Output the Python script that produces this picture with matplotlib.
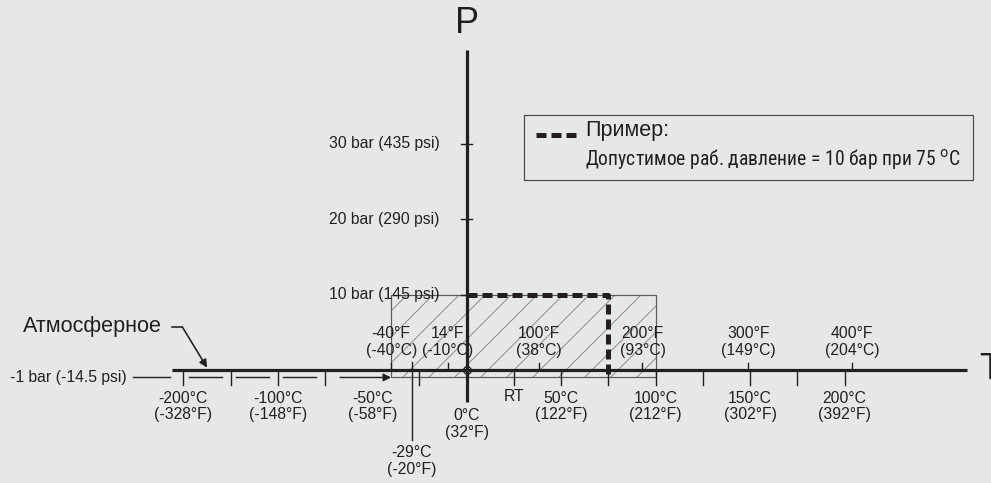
import matplotlib.pyplot as plt
from matplotlib import font_manager
from matplotlib.patches import Rectangle

DPI = 78  # hatch spacing in matplotlib follows dpi, 78 gives ~13 px


def px(v):
    # pixel size -> points
    return v * 72.0 / DPI


# pressure axis (bar) with psi labels
p_ticks = [10, 20, 30]
p_labels = ["10 bar (145 psi)", "20 bar (290 psi)", "30 bar (435 psi)"]
p_min = -1
p_min_label = "-1 bar (-14.5 psi)"

# temperature ticks under the axis; left part of scale is drawn compressed,
# so -200 °C sits at position -150 and -150 °C at -125
c_tick_pos = [-150, -125, -100, -75, -25, 25, 50, 75, 100, 125, 150, 175, 200]
c_label_pos = [-150, -100, -50, 25, 50, 100, 150, 200]
c_labels = ["-200°C\n(-328°F)", "-100°C\n(-148°F)", "-50°C\n(-58°F)", "RT",
            "50°C\n(122°F)", "100°C\n(212°F)", "150°C\n(302°F)", "200°C\n(392°F)"]
zero_label = "0°C\n(32°F)"
low_limit = -29
low_limit_label = "-29°C\n(-20°F)"

# fahrenheit ticks above the axis (positions in °C)
f_tick_pos = [-40, -10, 38, 93, 149, 204]
f_labels = ["-40°F\n(-40°C)", "14°F\n(-10°C)", "100°F\n(38°C)",
            "200°F\n(93°C)", "300°F\n(149°C)", "400°F\n(204°C)"]

# permitted range (hatched) and the example point
range_t = [-40, 100]
range_p = [-1, 10]
example_t = 75
example_p = 10

# atmospheric line ticks
atm_ticks = [-150, -125, -100, -75]

BG = "#e6e7e8"
INK = "#231f20"

# look for a condensed face for the legend text
narrow = None
for fam in ["Liberation Sans Narrow", "Roboto Condensed", "Open Sans Condensed",
            "Arial Narrow", "DejaVu Sans Condensed"]:
    try:
        font_manager.findfont(fam, fallback_to_default=False)
        narrow = font_manager.FontProperties(family=fam)
        break
    except Exception:
        pass
if narrow is None:
    fp = font_manager.FontProperties(family="DejaVu Sans", stretch="condensed")
    if "Condensed" in font_manager.findfont(fp):
        narrow = fp
    else:
        narrow = font_manager.FontProperties(family="Liberation Sans")

plt.rcParams["font.family"] = ["Liberation Sans", "DejaVu Sans"]
plt.rcParams["mathtext.fontset"] = "custom"
plt.rcParams["mathtext.rm"] = narrow.get_family()[0]
plt.rcParams["hatch.linewidth"] = px(1.0)
plt.rcParams["hatch.color"] = "#8f8f8f"

fig = plt.figure(figsize=(992 / DPI, 483 / DPI), dpi=DPI, facecolor=BG)
ax = fig.add_axes([0, 0, 1, 1])
ax.set_facecolor(BG)
ax.set_xlim(-247, 278)
ax.set_ylim(-15, 49.07)
ax.axis("off")

fs = px(15.7)

# hatched permitted range
ax.add_patch(Rectangle((range_t[0], range_p[0]), range_t[1] - range_t[0], range_p[1] - range_p[0],
                       facecolor="none", edgecolor="#8f8f8f", hatch="/", lw=0, zorder=1))
ax.add_patch(Rectangle((range_t[0], range_p[0]), range_t[1] - range_t[0], range_p[1] - range_p[0],
                       facecolor="none", edgecolor="#5a5a5a", lw=px(1.2), zorder=2))

# main axes
ax.plot([-156, 265], [0, 0], color=INK, lw=px(3.2), solid_capstyle="butt", zorder=4)
ax.plot([0, 0], [-4.2, 42.4], color=INK, lw=px(3.2), solid_capstyle="butt", zorder=4)
ax.text(271.5, 0, "T", fontsize=px(36), color=INK, ha="left", va="center")
ax.text(0, 45.9, "P", fontsize=px(36), color=INK, ha="center", va="center")
ax.plot(0, 0, "o", ms=px(7.5), mfc="none", mec=INK, mew=px(1.3), zorder=5)

# pressure ticks
for p, lab in zip(p_ticks, p_labels):
    ax.plot([-3, 3], [p, p], color=INK, lw=px(1.4), zorder=4)
    ax.text(-14.5, p, lab, fontsize=fs, color=INK, ha="right", va="center", zorder=6)

# ticks under and above the axis
for t in c_tick_pos:
    ax.plot([t, t], [0, -2.0], color=INK, lw=px(1.4), zorder=4)
for t, lab in zip(c_label_pos, c_labels):
    y = -3.55 if lab == "RT" else -4.85
    ax.text(t, y, lab, fontsize=fs, color=INK, ha="center", va="center", linespacing=1.15)
ax.text(0, -7.2, zero_label, fontsize=fs, color=INK, ha="center", va="center", linespacing=1.15)

for t, lab in zip(f_tick_pos, f_labels):
    ax.plot([t, t], [0, 0.95], color=INK, lw=px(1.4), zorder=4)
    ax.text(t, 3.75, lab, fontsize=fs, color=INK, ha="center", va="center", linespacing=1.15)

# -29 °C limit line
ax.plot([low_limit, low_limit], [1.0, -9.3], color=INK, lw=px(1.4), zorder=4)
ax.text(low_limit, -12.1, low_limit_label, fontsize=fs, color=INK, ha="center", va="center",
        linespacing=1.15)

# atmospheric (-1 bar) line, broken around the ticks
ax.text(-179.8, p_min, p_min_label, fontsize=fs, color=INK, ha="right", va="center")
ax.plot([-176.5, -157], [p_min, p_min], color=INK, lw=px(1.4))
for a, b in zip(atm_ticks[:-1], atm_ticks[1:]):
    ax.plot([a + 2.8, b - 4.5], [p_min, p_min], color=INK, lw=px(1.4))
ax.annotate("", xy=(range_t[0], p_min), xytext=(atm_ticks[-1] + 8, p_min),
            arrowprops=dict(arrowstyle="-|>", color=INK, lw=px(1.4),
                            mutation_scale=px(16), shrinkA=0, shrinkB=0))

# "Атмосферное" callout
ax.text(-234.8, 5.7, "Атмосферное", fontsize=px(21.6), color=INK, ha="left", va="center")
ax.plot([-156, -150.5], [5.7, 5.7], color=INK, lw=px(1.6))
ax.annotate("", xy=(-137.4, 0.3), xytext=(-150.5, 5.7),
            arrowprops=dict(arrowstyle="-|>", color=INK, lw=px(1.6),
                            mutation_scale=px(16), shrinkA=0, shrinkB=0))

# example: 10 bar at 75 °C
ax.plot([0, example_t, example_t], [example_p, example_p, p_min], color=INK,
        lw=px(5), linestyle=(0, (2, 1)), dash_capstyle="butt", zorder=5)

# legend box
ax.add_patch(Rectangle((30.3, 25.2), 237.6, 8.6, facecolor=BG, edgecolor="#4a4a4a",
                       lw=px(1.2), zorder=3))
ax.plot([36.6, 57.8], [31.2, 31.2], color=INK, lw=px(5), linestyle=(0, (2, 1)),
        dash_capstyle="butt", zorder=5)
ax.text(62.5, 31.75, "Пример:", fontsize=px(21.5), color=INK, ha="left", va="center", zorder=6)
note = ax.text(62.5, 28.0, "Допустимое раб. давление = 10 бар при 75 $^{\\mathrm{o}}$C",
               fontproperties=narrow, fontsize=px(18.5), color=INK, ha="left", va="center",
               zorder=6)

# fit the note into the box width of the original (~375 px)
fig.canvas.draw()
w = note.get_window_extent().width
note.set_fontsize(px(18.5) * 375.0 / w)

fig.savefig("out.png", dpi=DPI, facecolor=BG)
